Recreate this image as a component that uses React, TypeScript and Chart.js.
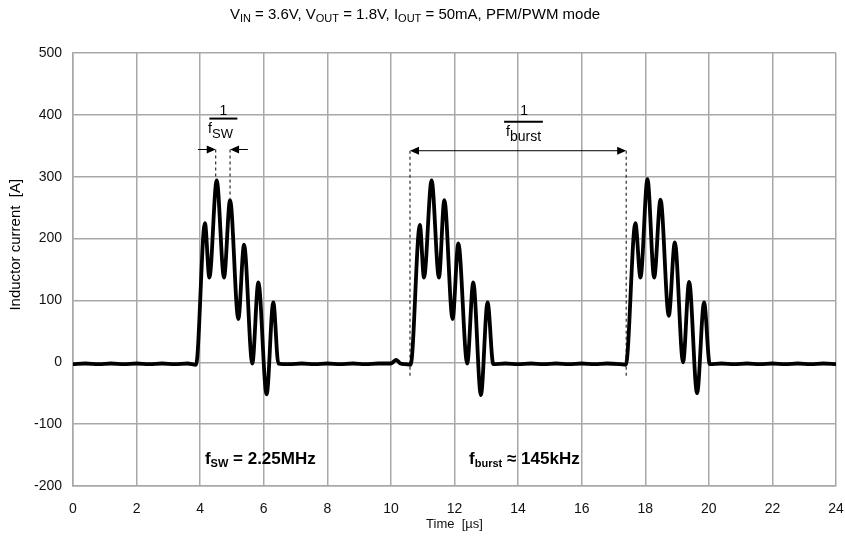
import { useEffect, useRef } from 'react';
import { Chart, registerables } from 'chart.js';

Chart.register(...registerables);

// Inductor current trace: time in µs, current in A
const timeUs = [
  0, 0.4, 0.8, 1.2, 1.6, 2.0, 2.4, 2.8, 3.2, 3.6, 3.87,
  4.15, 4.29, 4.52, 4.75, 4.94, 5.2, 5.38, 5.64, 5.83, 6.09, 6.3, 6.46,
  6.8, 7.2, 7.6, 8.0, 8.4, 8.8, 9.2, 9.6, 10.0, 10.17, 10.3, 10.45, 10.62,
  10.91, 11.04, 11.28, 11.51, 11.68, 11.94, 12.12, 12.4, 12.59, 12.83, 13.04, 13.22,
  13.6, 14.0, 14.4, 14.8, 15.2, 15.6, 16.0, 16.4, 16.8, 17.2, 17.39,
  17.69, 17.85, 18.07, 18.28, 18.48, 18.74, 18.93, 19.19, 19.38, 19.63, 19.85, 20.03,
  20.4, 20.8, 21.2, 21.6, 22.0, 22.4, 22.8, 23.2, 23.6, 24.0,
];
const currentA = [
  -3, -2, -3, -2, -3, -2, -3, -2, -3, -2, -4,
  225, 137, 294, 137, 262, 70, 190, -2, 129, -52, 97, -2,
  -3, -2, -3, -2, -3, -2, -3, -2, -2, 4, -2, -3, -4,
  222, 137, 294, 137, 262, 70, 192, -2, 129, -53, 97, -3,
  -2, -3, -2, -3, -2, -3, -2, -3, -2, -3, -4,
  225, 137, 296, 137, 263, 75, 194, 0, 130, -50, 97, -3,
  -2, -3, -2, -3, -2, -3, -2, -3, -2, -3,
];

const X_MIN = 0;
const X_MAX = 24;
const X_STEP = 2;
const Y_MIN = -200;
const Y_MAX = 500;
const Y_STEP = 100;

const FONT = "'Liberation Sans', Arial, Helvetica, sans-serif";

type Part = { t: string; size: number; bold?: boolean; dy?: number };

function drawRich(ctx: CanvasRenderingContext2D, parts: Part[], x: number, y: number, align: 'left' | 'center') {
  let w = 0;
  for (const p of parts) {
    ctx.font = `${p.bold ? 'bold ' : ''}${p.size}px ${FONT}`;
    w += ctx.measureText(p.t).width;
  }
  let cx = align === 'center' ? x - w / 2 : x;
  ctx.textAlign = 'left';
  ctx.textBaseline = 'alphabetic';
  for (const p of parts) {
    ctx.font = `${p.bold ? 'bold ' : ''}${p.size}px ${FONT}`;
    ctx.fillText(p.t, cx, y + (p.dy || 0));
    cx += ctx.measureText(p.t).width;
  }
}

function arrowHead(ctx: CanvasRenderingContext2D, tipX: number, y: number, dir: number) {
  ctx.beginPath();
  ctx.moveTo(tipX, y);
  ctx.lineTo(tipX - dir * 9, y - 4);
  ctx.lineTo(tipX - dir * 9, y + 4);
  ctx.closePath();
  ctx.fill();
}

const annotPlugin = {
  id: 'annot',
  afterDraw(chart: any) {
    const ctx: CanvasRenderingContext2D = chart.ctx;
    const xs = chart.scales.x;
    const ys = chart.scales.y;
    const X = (v: number) => xs.getPixelForValue(v);
    const Y = (v: number) => ys.getPixelForValue(v);
    ctx.save();
    ctx.fillStyle = '#000';
    ctx.strokeStyle = '#000';

    // Title
    drawRich(ctx, [
      { t: 'V', size: 15 }, { t: 'IN', size: 11, dy: 3 },
      { t: ' = 3.6V, V', size: 15 }, { t: 'OUT', size: 11, dy: 3 },
      { t: ' = 1.8V, I', size: 15 }, { t: 'OUT', size: 11, dy: 3 },
      { t: ' = 50mA, PFM/PWM mode', size: 15 },
    ], 415, 19, 'center');

    // Y axis title
    ctx.save();
    ctx.translate(16, Y(190));
    ctx.rotate(-Math.PI / 2);
    ctx.font = `15px ${FONT}`;
    ctx.textAlign = 'center';
    ctx.textBaseline = 'middle';
    ctx.fillText('Inductor current  [A]', 0, 0);
    ctx.restore();

    // 1/fSW fraction
    ctx.font = `14px ${FONT}`;
    ctx.textAlign = 'center';
    ctx.fillText('1', X(4.73), Y(400));
    ctx.lineWidth = 2;
    ctx.beginPath();
    ctx.moveTo(X(4.73) - 14, Y(394));
    ctx.lineTo(X(4.73) + 14, Y(394));
    ctx.stroke();
    drawRich(ctx, [{ t: 'f', size: 14 }, { t: 'SW', size: 13, dy: 5 }], X(4.25), Y(370), 'left');

    // fSW arrows
    const ya = Y(344);
    ctx.lineWidth = 1;
    ctx.beginPath();
    ctx.moveTo(X(3.93), ya); ctx.lineTo(X(4.49) - 6, ya);
    ctx.moveTo(X(5.5), ya); ctx.lineTo(X(4.94) + 6, ya);
    ctx.stroke();
    arrowHead(ctx, X(4.49), ya, 1);
    arrowHead(ctx, X(4.94), ya, -1);
    ctx.setLineDash([3, 3]);
    ctx.beginPath();
    ctx.moveTo(X(4.49), ya); ctx.lineTo(X(4.49), Y(298));
    ctx.moveTo(X(4.94), ya); ctx.lineTo(X(4.94), Y(266));
    ctx.stroke();
    ctx.setLineDash([]);

    // 1/fburst fraction
    ctx.font = `14px ${FONT}`;
    ctx.textAlign = 'center';
    ctx.fillText('1', X(14.19), Y(399));
    ctx.lineWidth = 2;
    ctx.beginPath();
    ctx.moveTo(X(13.56), Y(389));
    ctx.lineTo(X(14.78), Y(389));
    ctx.stroke();
    drawRich(ctx, [{ t: 'f', size: 14 }, { t: 'burst', size: 14, dy: 5 }], X(13.62), Y(366), 'left');

    // fburst double arrow
    const yb = Y(342);
    ctx.lineWidth = 1;
    ctx.beginPath();
    ctx.moveTo(X(10.6) + 6, yb); ctx.lineTo(X(17.4) - 6, yb);
    ctx.stroke();
    arrowHead(ctx, X(10.6), yb, -1);
    arrowHead(ctx, X(17.4), yb, 1);
    ctx.setLineDash([3, 3]);
    ctx.beginPath();
    ctx.moveTo(X(10.6), yb); ctx.lineTo(X(10.6), Y(-25));
    ctx.moveTo(X(17.4), yb); ctx.lineTo(X(17.4), Y(-25));
    ctx.stroke();
    ctx.setLineDash([]);

    // Bottom labels
    drawRich(ctx, [
      { t: 'f', size: 17, bold: true }, { t: 'SW', size: 11, bold: true, dy: 3 },
      { t: ' = 2.25MHz', size: 17, bold: true },
    ], X(4.15), Y(-164), 'left');
    drawRich(ctx, [
      { t: 'f', size: 17, bold: true }, { t: 'burst', size: 11, bold: true, dy: 3 },
      { t: ' ≈ 145kHz', size: 17, bold: true },
    ], X(12.46), Y(-164), 'left');

    ctx.restore();
  },
};

export default function App() {
  const ref = useRef<HTMLCanvasElement | null>(null);
  useEffect(() => {
    document.body.style.margin = '0';
    const canvas = ref.current;
    if (!canvas) return;
    const points = timeUs.map((t, i) => ({ x: t, y: currentA[i] }));
    const chart = new Chart(canvas, {
      type: 'line',
      data: {
        datasets: [{
          data: points,
          borderColor: '#000',
          borderWidth: 3.8,
          pointRadius: 0,
          fill: false,
          cubicInterpolationMode: 'monotone',
        }],
      },
      options: {
        animation: false,
        responsive: false,
        devicePixelRatio: 1,
        layout: { padding: { top: 53, right: 9, bottom: 0, left: 0 } },
        plugins: { legend: { display: false }, title: { display: false }, tooltip: { enabled: false } },
        scales: {
          x: {
            type: 'linear',
            min: X_MIN,
            max: X_MAX,
            ticks: { stepSize: X_STEP, color: '#111', padding: 15, font: { family: FONT, size: 14 }, maxRotation: 0 },
            grid: { color: '#a8a8a8', lineWidth: 1.5, drawTicks: false },
            border: { color: '#a8a8a8', width: 1.5 },
            title: { display: true, text: 'Time  [µs]', color: '#111', font: { family: FONT, size: 13 }, padding: { top: 0, bottom: 5 } },
            afterFit: (s: any) => { s.height = 51; s.paddingLeft = 0; s.paddingRight = 0; },
          },
          y: {
            type: 'linear',
            min: Y_MIN,
            max: Y_MAX,
            ticks: { stepSize: Y_STEP, color: '#111', padding: 11, font: { family: FONT, size: 14 } },
            grid: { color: '#a8a8a8', lineWidth: 1.5, drawTicks: false },
            border: { color: '#a8a8a8', width: 1.5 },
            afterFit: (s: any) => { s.width = 73; s.paddingTop = 0; s.paddingBottom = 0; },
          },
        },
      },
      plugins: [annotPlugin],
    } as any);
    return () => chart.destroy();
  }, []);
  return (
    <div style={{ position: 'fixed', left: 0, top: 0, width: 845, height: 537, background: '#fff' }}>
      <canvas ref={ref} width={845} height={537} style={{ width: 845, height: 537, display: 'block' }} />
    </div>
  );
}
